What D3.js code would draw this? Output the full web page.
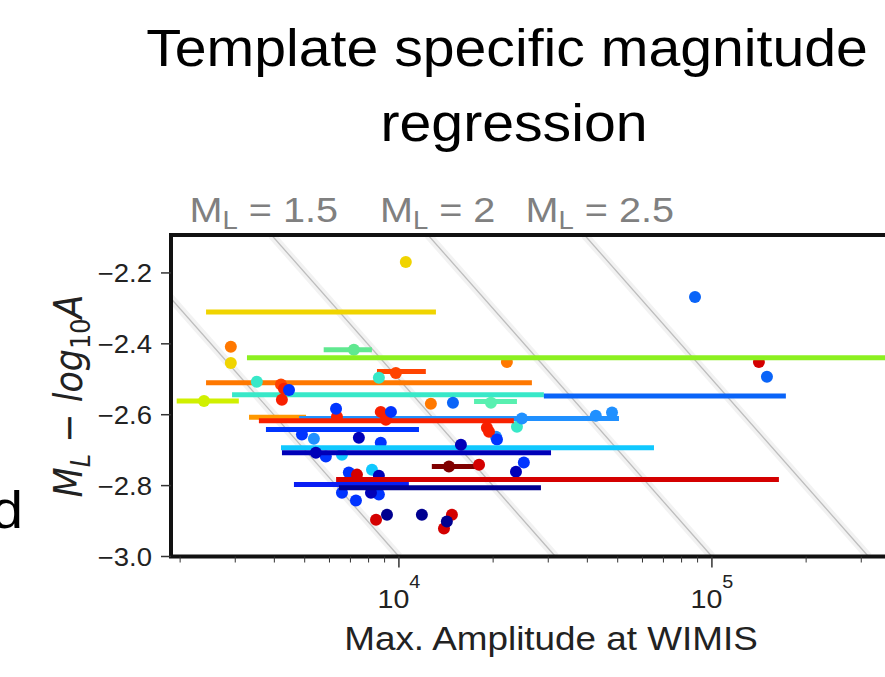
<!DOCTYPE html>
<html>
<head>
<meta charset="utf-8">
<script src="https://d3js.org/d3.v7.min.js"></script>
<style>
  body { margin: 0; background: #fff; }
  text { font-family: "Liberation Sans", Arial, sans-serif; }
</style>
</head>
<body>
<div id="chart"></div>
<script>
// templates (horizontal bars): colour, M_L - log10(A) level, amplitude range
const templateColor  = ["#f0d400", "#60e890", "#ff7800", "#ff4400", "#38e8c8", "#0a64f8", "#d0f000",
                        "#58f0b0", "#ff9800", "#2090ff", "#f82000", "#0034ff", "#10c8ff", "#0000b8",
                        "#800000", "#d40000", "#0a1ef4", "#000090", "#8cf020"];
const templateLevel  = [-2.31, -2.417, -2.51, -2.478, -2.544, -2.547, -2.561,
                        -2.563, -2.607, -2.611, -2.617, -2.642, -2.693, -2.707,
                        -2.746, -2.783, -2.797, -2.806, -2.439];
const templateAmpMin = [2420, 5750, 2420, 8510, 2930, 29050, 1950,
                        17380, 3320, 4800, 3570, 3760, 4200, 4230,
                        12740, 6300, 4620, 6430, 3270];
const templateAmpMax = [13130, 8200, 26600, 12190, 29050, 172300, 3080,
                        23830, 5050, 50470, 23290, 11590, 65300, 30620,
                        17620, 163700, 10760, 28430, 500000];

// individual events
const eventTemplate = [0, 0, 1, 2, 2, 2, 3, 3, 4, 4, 4, 5, 5, 5, 6, 7,
                       9, 9, 9, 9, 9,
                       10, 10, 10, 10, 10, 10, 10,
                       11, 11, 11, 11, 11, 11, 11, 11, 11, 11, 11, 11,
                       12, 12, 13, 13, 13, 13, 13, 13, 14,
                       15, 15, 15, 15, 15, 15, 17, 17, 17];
const eventAmp = [10520, 2904, 7180, 2904, 22130, 12650, 9780, 4200, 3516, 8630, 23830, 88300, 149900, 14880, 2384, 19680,
                  24710, 42560, 47950, 5350, 20420,
                  4293, 4228, 6339, 8750, 9090, 19100, 19400,
                  4455, 6297, 9430, 4900, 8750, 20570, 5843, 6918, 6577, 25070, 8630, 7290,
                  6577, 8203, 7449, 5428, 15780, 8630, 23660, 8142, 14450,
                  7346, 18030, 141300, 8451, 14770, 13930, 9160, 11840, 14230];
const eventLevel = [-2.169, -2.454, -2.417, -2.408, -2.451, -2.569, -2.482, -2.515, -2.507, -2.496, -2.634, -2.268, -2.493, -2.566, -2.561, -2.566,
                    -2.611, -2.603, -2.594, -2.668, -2.662,
                    -2.527, -2.558, -2.606, -2.592, -2.614, -2.637, -2.648,
                    -2.530, -2.583, -2.592, -2.656, -2.679, -2.670, -2.718, -2.763, -2.820, -2.735, -2.825, -2.842,
                    -2.713, -2.755, -2.665, -2.707, -2.685, -2.772, -2.761, -2.820, -2.746,
                    -2.769, -2.741, -2.451, -2.896, -2.882, -2.921, -2.882, -2.882, -2.901];

const magnitudeLines = [1.0, 1.5, 2.0, 2.5];
const magnitudeLabels = ["1.5", "2", "2.5"];
const magnitudeLabelAmp = [3700, 13300, 43800];
const yTicks = [-2.2, -2.4, -2.6, -2.8, -3.0];
const xMajorTicks = [1e4, 1e5];
const xDomain = [1870, 500000];
const yDomain = [-3.0, -2.093];

const width = 885, height = 677;
const plotLeft = 171, plotTop = 235, plotBottom = 556.5, decadePx = 313;
const plotRight = plotLeft + decadePx * Math.log10(xDomain[1] / xDomain[0]);
const stretch = "scale(1.1,1)";

const svg = d3.select("#chart").append("svg")
  .attr("width", width).attr("height", height);

const x = d3.scaleLog().domain(xDomain).range([plotLeft, plotRight]);
const y = d3.scaleLinear().domain(yDomain).range([plotBottom, plotTop]);

// title
svg.append("text").attr("transform", `translate(507,66) ${stretch}`)
  .attr("text-anchor", "middle").attr("font-size", 52).attr("fill", "#000")
  .text("Template specific magnitude");
svg.append("text").attr("transform", `translate(514,141) ${stretch}`)
  .attr("text-anchor", "middle").attr("font-size", 52).attr("fill", "#000")
  .text("regression");

// cut-off text from the neighbour panel
svg.append("text").attr("transform", `translate(23,528) ${stretch}`)
  .attr("text-anchor", "end").attr("font-size", 52).attr("fill", "#000").text("d");

svg.append("defs").append("clipPath").attr("id", "plotClip")
  .append("rect").attr("x", plotLeft).attr("y", plotTop)
  .attr("width", plotRight - plotLeft).attr("height", plotBottom - plotTop);

const plot = svg.append("g").attr("clip-path", "url(#plotClip)");

// constant magnitude lines: y = M_L - log10(A)
const diag = plot.append("g");
magnitudeLines.forEach(m => {
  const a0 = Math.pow(10, m - yDomain[1]), a1 = Math.pow(10, m - yDomain[0]);
  diag.append("line")
    .attr("x1", x(a0)).attr("y1", y(yDomain[1])).attr("x2", x(a1)).attr("y2", y(yDomain[0]))
    .attr("stroke", "#f2f2f2").attr("stroke-width", 8);
  diag.append("line")
    .attr("x1", x(a0)).attr("y1", y(yDomain[1])).attr("x2", x(a1)).attr("y2", y(yDomain[0]))
    .attr("stroke", "#bdbdbd").attr("stroke-width", 1.3);
});

// templates: bar then its events
templateColor.forEach((c, t) => {
  const g = plot.append("g");
  g.append("line")
    .attr("x1", x(templateAmpMin[t])).attr("x2", x(templateAmpMax[t]))
    .attr("y1", y(templateLevel[t])).attr("y2", y(templateLevel[t]))
    .attr("stroke", c).attr("stroke-width", 5);
  const idx = d3.range(eventTemplate.length).filter(i => eventTemplate[i] === t);
  g.selectAll("circle").data(idx).join("circle")
    .attr("cx", i => x(eventAmp[i]))
    .attr("cy", i => y(eventLevel[i]))
    .attr("r", 6)
    .attr("fill", c);
});

// frame
svg.append("rect")
  .attr("x", plotLeft).attr("y", plotTop)
  .attr("width", plotRight - plotLeft).attr("height", plotBottom - plotTop)
  .attr("fill", "none").attr("stroke", "#111").attr("stroke-width", 4);

// y axis
const yAxis = svg.append("g");
yTicks.forEach(v => {
  yAxis.append("line").attr("x1", plotLeft - 10).attr("x2", plotLeft).attr("y1", y(v)).attr("y2", y(v))
    .attr("stroke", "#333").attr("stroke-width", 1.5);
  yAxis.append("text").attr("transform", `translate(152,${y(v) + 9}) ${stretch}`)
    .attr("text-anchor", "end").attr("font-size", 25).attr("fill", "#222")
    .text(d3.format(".1f")(v).replace("-", "\u2212"));
});

// y label (mathtext style)
const yl = svg.append("text")
  .attr("transform", `translate(82,396) ${stretch} rotate(-90)`)
  .attr("text-anchor", "middle")
  .attr("font-size", 35)
  .attr("fill", "#222")
  .style("font-family", "'DejaVu Sans', sans-serif");
yl.append("tspan").attr("font-style", "italic").text("M");
yl.append("tspan").attr("font-style", "italic").attr("font-size", 24).attr("dy", 7).text("L");
yl.append("tspan").attr("dy", -7).text(" \u2212 ");
yl.append("tspan").attr("font-style", "italic").text("log");
yl.append("tspan").attr("font-size", 24).attr("dy", 7).text("10");
yl.append("tspan").attr("font-style", "italic").attr("dy", -7).text("A");

// x axis ticks
const xAxis = svg.append("g");
const minor = [];
for (let e = 3; e <= 5; e++) for (let k = 1; k <= 9; k++) minor.push(k * Math.pow(10, e));
minor.filter(v => v >= xDomain[0] && v <= xDomain[1]).forEach(v => {
  const major = xMajorTicks.includes(v);
  xAxis.append("line").attr("x1", x(v)).attr("x2", x(v))
    .attr("y1", plotBottom).attr("y2", plotBottom + (major ? 11 : 6))
    .attr("stroke", "#333").attr("stroke-width", major ? 1.5 : 1);
});
xMajorTicks.forEach(v => {
  const t = xAxis.append("text").attr("transform", `translate(${x(v)},608) ${stretch}`)
    .attr("text-anchor", "middle").attr("font-size", 26).attr("fill", "#222");
  t.append("tspan").text("10");
  t.append("tspan").attr("font-size", 18).attr("dy", -20).text(Math.round(Math.log10(v)));
});
svg.append("text").attr("transform", `translate(551,650) ${stretch}`)
  .attr("text-anchor", "middle").attr("font-size", 33.5).attr("fill", "#222")
  .text("Max. Amplitude at WIMIS");

// M_L labels above the frame
magnitudeLabels.forEach((m, i) => {
  const t = svg.append("text").attr("transform", `translate(${x(magnitudeLabelAmp[i])},222) ${stretch}`)
    .attr("text-anchor", "middle").attr("font-size", 36).attr("fill", "#808080");
  t.append("tspan").text("M");
  t.append("tspan").attr("font-size", 25).attr("dy", 7).text("L");
  t.append("tspan").attr("dy", -7).text(" = " + m);
});
</script>
</body>
</html>
